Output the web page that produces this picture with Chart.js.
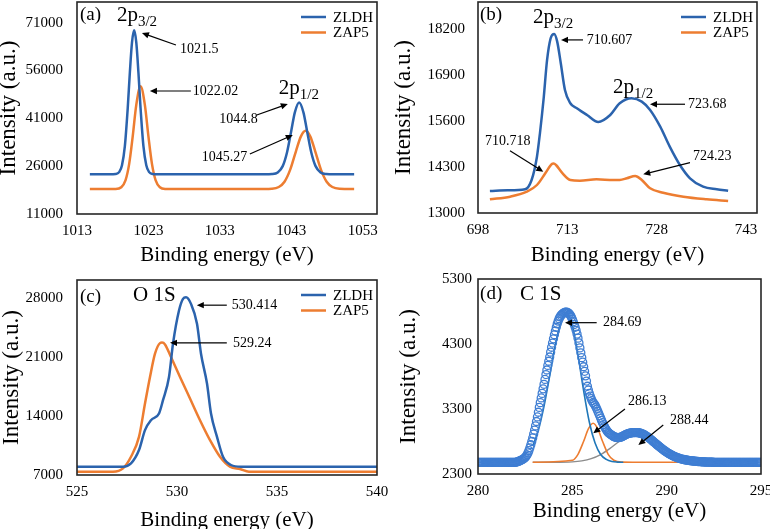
<!DOCTYPE html>
<html>
<head>
<meta charset="utf-8">
<script src="https://cdn.jsdelivr.net/npm/chart.js@4.4.1/dist/chart.umd.min.js"></script>
<style>
    html, body { margin: 0; padding: 0; background: #fff; overflow: hidden; }
    #wrap { position: relative; width: 770px; height: 529px; }
    #wrap canvas { position: absolute; left: 0; top: 0; }
</style>
</head>
<body>
<div id="wrap">
    <canvas id="chart-a" width="770" height="529"></canvas>
    <canvas id="chart-b" width="770" height="529"></canvas>
    <canvas id="chart-c" width="770" height="529"></canvas>
    <canvas id="chart-d" width="770" height="529"></canvas>
</div>
<script>
// (a) Zn 2p
var energyA_zldh = [1014.8, 1017.6, 1018.4, 1018.9, 1019.3, 1019.7, 1020.1, 1020.4, 1020.7, 1021.0, 1021.3, 1021.6, 1021.9, 1022.3, 1022.7, 1023.1, 1023.6, 1024.4,
                    1039.3, 1040.3, 1041.1, 1041.8, 1042.4, 1043.0, 1043.5, 1044.1, 1044.7, 1045.2, 1045.8, 1046.4, 1047.1, 1047.9, 1048.9, 1051.8];
var countsA_zldh = [23500, 23500, 23570, 24130, 26300, 32300, 44150, 55380, 64850, 68600, 64850, 55380, 44150, 32300, 26300, 24130, 23570, 23500,
                    23500, 23560, 24040, 26020, 30310, 37130, 42880, 45980, 42880, 37130, 30310, 26020, 24040, 23560, 23500, 23500];
var energyA_zap5 = [1014.8, 1018.4, 1019.2, 1019.8, 1020.3, 1020.8, 1021.3, 1021.9, 1022.5, 1023.0, 1023.5, 1024.0, 1024.6, 1025.4, 1026.4,
                    1039.25, 1040.25, 1041.25, 1042.05, 1042.85, 1043.65, 1044.35, 1045.0, 1045.65, 1046.35, 1047.15, 1047.95, 1048.75, 1049.75, 1051.8];
var countsA_zap5 = [18830, 18865, 19400, 21630, 26630, 35340, 45240, 51080, 45240, 35340, 26630, 21630, 19400, 18865, 18830,
                    18840, 18910, 19470, 21130, 24930, 30680, 35350, 37090, 35350, 30680, 24930, 21130, 19470, 18910, 18830];
var xTicksA = [1013, 1023, 1033, 1043, 1053];
var yTicksA = [11000, 26000, 41000, 56000, 71000];

// (b) Fe 2p
var energyB_zldh = [700.0, 703.0, 705.9, 707.0, 707.9, 708.4, 709.0, 709.6, 710.2, 710.8, 711.3, 711.9, 712.6, 713.5, 714.6, 716.3, 718.2,
                    720.2, 721.8, 723.8, 725.5, 726.9, 728.6, 730.2, 731.9, 733.6, 735.8, 738.1, 740.0];
var countsB_zldh = [13622, 13640, 13670, 13933, 14591, 15252, 16193, 17324, 17937, 18059, 17841, 17231, 16476, 16100, 15959, 15769, 15572,
                    15769, 16100, 16241, 16145, 15911, 15439, 14874, 14356, 13981, 13743, 13670, 13630];
var energyB_zap5 = [700.0, 703.4, 706.2, 707.9, 709.3, 710.4, 710.7, 711.1, 712.1, 713.5, 715.1, 717.9, 720.7, 721.8, 723.0, 724.4, 725.5,
                    726.9, 729.1, 732.5, 736.4, 740.0];
var countsB_zap5 = [13387, 13461, 13602, 13791, 14122, 14385, 14400, 14356, 14139, 13933, 13913, 13952, 13933, 13933, 13981, 14046, 13933,
                    13698, 13574, 13461, 13387, 13339];
var xTicksB = [698, 713, 728, 743];
var yTicksB = [13000, 14300, 15600, 16900, 18200];

// (c) O 1s
var energyC_zldh = [525.0, 527.3, 527.7, 528.1, 528.4, 528.7, 529.1, 529.3, 529.6, 529.8, 530.1, 530.3, 530.45, 530.7, 531.0, 531.2, 531.5,
                    531.7, 532.0, 532.3, 532.7, 533.2, 540.0];
var countsC_zldh = [7990, 7990, 8380, 9970, 12340, 13520, 14320, 15900, 18660, 22620, 26570, 27960, 28150, 27360, 24990, 21430, 17880,
                    14320, 11540, 9170, 8190, 7990, 7990];
var energyC_zap5 = [525.0, 526.8, 527.3, 527.7, 528.1, 528.4, 528.65, 528.9, 529.15, 529.25, 529.4, 529.7, 530.15, 530.65, 531.15, 531.65,
                    532.15, 532.65, 533.15, 533.6, 540.0];
var countsC_zap5 = [7390, 7390, 7790, 9170, 11540, 15500, 18660, 21430, 22690, 22750, 22540, 21030, 18660, 16100, 13520, 11150,
                    9170, 7990, 7710, 7400, 7390];
var xTicksC = [525, 530, 535, 540];
var yTicksC = [7000, 14000, 21000, 28000];

// (d) C 1s, measured points (every 0.05 eV) and fitted components
var energyD = [280.00, 280.05, 280.10, 280.15, 280.20, 280.25, 280.30, 280.35, 280.40, 280.45,
               280.50, 280.55, 280.60, 280.65, 280.70, 280.75, 280.80, 280.85, 280.90, 280.95,
               281.00, 281.05, 281.10, 281.15, 281.20, 281.25, 281.30, 281.35, 281.40, 281.45,
               281.50, 281.55, 281.60, 281.65, 281.70, 281.75, 281.80, 281.85, 281.90, 281.95,
               282.00, 282.05, 282.10, 282.15, 282.20, 282.25, 282.30, 282.35, 282.40, 282.45,
               282.50, 282.55, 282.60, 282.65, 282.70, 282.75, 282.80, 282.85, 282.90, 282.95,
               283.00, 283.05, 283.10, 283.15, 283.20, 283.25, 283.30, 283.35, 283.40, 283.45,
               283.50, 283.55, 283.60, 283.65, 283.70, 283.75, 283.80, 283.85, 283.90, 283.95,
               284.00, 284.05, 284.10, 284.15, 284.20, 284.25, 284.30, 284.35, 284.40, 284.45,
               284.50, 284.55, 284.60, 284.65, 284.70, 284.75, 284.80, 284.85, 284.90, 284.95,
               285.00, 285.05, 285.10, 285.15, 285.20, 285.25, 285.30, 285.35, 285.40, 285.45,
               285.50, 285.55, 285.60, 285.65, 285.70, 285.75, 285.80, 285.85, 285.90, 285.95,
               286.00, 286.05, 286.10, 286.15, 286.20, 286.25, 286.30, 286.35, 286.40, 286.45,
               286.50, 286.55, 286.60, 286.65, 286.70, 286.75, 286.80, 286.85, 286.90, 286.95,
               287.00, 287.05, 287.10, 287.15, 287.20, 287.25, 287.30, 287.35, 287.40, 287.45,
               287.50, 287.55, 287.60, 287.65, 287.70, 287.75, 287.80, 287.85, 287.90, 287.95,
               288.00, 288.05, 288.10, 288.15, 288.20, 288.25, 288.30, 288.35, 288.40, 288.45,
               288.50, 288.55, 288.60, 288.65, 288.70, 288.75, 288.80, 288.85, 288.90, 288.95,
               289.00, 289.05, 289.10, 289.15, 289.20, 289.25, 289.30, 289.35, 289.40, 289.45,
               289.50, 289.55, 289.60, 289.65, 289.70, 289.75, 289.80, 289.85, 289.90, 289.95,
               290.00, 290.05, 290.10, 290.15, 290.20, 290.25, 290.30, 290.35, 290.40, 290.45,
               290.50, 290.55, 290.60, 290.65, 290.70, 290.75, 290.80, 290.85, 290.90, 290.95,
               291.00, 291.05, 291.10, 291.15, 291.20, 291.25, 291.30, 291.35, 291.40, 291.45,
               291.50, 291.55, 291.60, 291.65, 291.70, 291.75, 291.80, 291.85, 291.90, 291.95,
               292.00, 292.05, 292.10, 292.15, 292.20, 292.25, 292.30, 292.35, 292.40, 292.45,
               292.50, 292.55, 292.60, 292.65, 292.70, 292.75, 292.80, 292.85, 292.90, 292.95,
               293.00, 293.05, 293.10, 293.15, 293.20, 293.25, 293.30, 293.35, 293.40, 293.45,
               293.50, 293.55, 293.60, 293.65, 293.70, 293.75, 293.80, 293.85, 293.90, 293.95,
               294.00, 294.05, 294.10, 294.15, 294.20, 294.25, 294.30, 294.35, 294.40, 294.45,
               294.50, 294.55, 294.60, 294.65, 294.70, 294.75, 294.80, 294.85, 294.90, 294.95,
               295.00];
var countsD = [2480, 2480, 2480, 2480, 2480, 2480, 2480, 2480, 2480, 2480,
               2480, 2480, 2480, 2480, 2480, 2480, 2480, 2480, 2480, 2480,
               2480, 2480, 2480, 2480, 2480, 2480, 2480, 2480, 2480, 2480,
               2480, 2480, 2480, 2480, 2480, 2480, 2480, 2480, 2480, 2480,
               2480, 2484, 2490, 2495, 2500, 2507, 2515, 2522, 2530, 2541,
               2555, 2573, 2595, 2625, 2660, 2703, 2750, 2800, 2855, 2913,
               2975, 3040, 3108, 3178, 3250, 3325, 3398, 3470, 3540, 3610,
               3680, 3755, 3830, 3900, 3970, 4035, 4100, 4175, 4250, 4315,
               4380, 4442, 4500, 4558, 4610, 4652, 4690, 4717, 4740, 4757,
               4770, 4779, 4785, 4789, 4790, 4784, 4775, 4760, 4740, 4713,
               4680, 4642, 4600, 4557, 4510, 4452, 4390, 4317, 4240, 4165,
               4090, 4020, 3950, 3880, 3810, 3730, 3650, 3592, 3540, 3498,
               3460, 3428, 3400, 3380, 3360, 3331, 3300, 3265, 3230, 3195,
               3160, 3125, 3090, 3060, 3030, 3004, 2980, 2959, 2940, 2927,
               2915, 2905, 2895, 2885, 2875, 2869, 2865, 2862, 2860, 2860,
               2862, 2865, 2870, 2877, 2885, 2892, 2900, 2908, 2915, 2920,
               2925, 2929, 2932, 2934, 2936, 2937, 2938, 2938, 2938, 2937,
               2935, 2932, 2928, 2923, 2918, 2912, 2905, 2897, 2888, 2878,
               2868, 2857, 2846, 2834, 2822, 2810, 2797, 2785, 2772, 2760,
               2748, 2736, 2724, 2712, 2700, 2689, 2678, 2667, 2656, 2646,
               2636, 2626, 2617, 2608, 2600, 2592, 2585, 2578, 2571, 2565,
               2559, 2553, 2548, 2543, 2538, 2534, 2530, 2526, 2523, 2520,
               2517, 2514, 2512, 2509, 2507, 2505, 2503, 2501, 2500, 2498,
               2497, 2495, 2494, 2492, 2491, 2490, 2489, 2488, 2487, 2486,
               2485, 2485, 2484, 2484, 2483, 2483, 2482, 2482, 2481, 2481,
               2480, 2480, 2480, 2480, 2480, 2480, 2480, 2480, 2480, 2480,
               2480, 2480, 2480, 2480, 2480, 2480, 2480, 2480, 2480, 2480,
               2480, 2480, 2480, 2480, 2480, 2480, 2480, 2480, 2480, 2480,
               2480, 2480, 2480, 2480, 2480, 2480, 2480, 2480, 2480, 2480,
               2480, 2480, 2480, 2480, 2480, 2480, 2480, 2480, 2480, 2480,
               2480];
var fitEnergyD_1 = [282.9, 283.2, 283.5, 283.8, 284.1, 284.4, 284.69, 285.0, 285.3, 285.6, 285.9, 286.2, 286.5, 286.8, 287.1, 287.4, 287.7];
var fitCountsD_1 = [2730, 2975, 3343, 3809, 4288, 4649, 4780, 4590, 4130, 3580, 3100, 2780, 2600, 2525, 2493, 2483, 2480];
var fitEnergyD_2 = [282.9, 285.0, 285.3, 285.6, 285.85, 286.1, 286.35, 286.6, 286.9, 287.2, 287.6, 288.2, 290.9];
var fitCountsD_2 = [2480, 2511, 2603, 2804, 2994, 3080, 2994, 2804, 2603, 2511, 2482, 2480, 2480];
var fitEnergyD_3 = [282.9, 284.0, 285.0, 285.5, 286.0, 286.5, 287.0, 287.5, 288.0, 288.44, 289.0, 289.5, 290.0, 290.5, 290.9];
var fitCountsD_3 = [2480, 2480, 2487, 2502, 2536, 2599, 2694, 2804, 2891, 2920, 2875, 2778, 2669, 2581, 2534];
var xTicksD = [280, 285, 290, 295];
var yTicksD = [2300, 3300, 4300, 5300];

var SERIF = '"Liberation Serif", "Times New Roman", serif';
var BLUE = '#2b63ad';
var ORANGE = '#ed7d31';

function toPoints(xs, ys) {
    var pts = [];
    for (var i = 0; i < xs.length; i++)
        pts.push({x: xs[i], y: ys[i]});
    return pts;
}

function curve(label, xs, ys, color, width) {
    return {
        label: label,
        data: toPoints(xs, ys),
        showLine: true,
        borderColor: color,
        borderWidth: width,
        pointRadius: 0,
        fill: false,
        cubicInterpolationMode: 'monotone'
    };
}

// annotations: texts, arrows [x1, y1, x2, y2] in data units
var decorById = {
    'chart-a': {
        legend: true,
        notes: [
            {text: '(a)', x: 1013.42, y: 73420, size: 19},
            {text: '2p', sub: '3/2', x: 1018.59, y: 71640, size: 21},
            {text: '1021.5', x: 1027.41, y: 62760, size: 14},
            {text: '1022.02', x: 1029.22, y: 49590, size: 14},
            {text: '2p', sub: '1/2', x: 1041.25, y: 48640, size: 21},
            {text: '1044.8', x: 1032.9, y: 40800, size: 14},
            {text: '1045.27', x: 1030.48, y: 28720, size: 14}
        ],
        arrows: [
            [1026.85, 64020, 1022.09, 67780],
            [1028.94, 49590, 1023.21, 49590],
            [1038.17, 42060, 1042.51, 45510],
            [1037.2, 29820, 1043.21, 35780]
        ]
    },
    'chart-b': {
        legend: true,
        notes: [
            {text: '(b)', x: 698.34, y: 18595, size: 19},
            {text: '2p', sub: '3/2', x: 707.23, y: 18361, size: 21},
            {text: '710.607', x: 716.25, y: 17889, size: 14},
            {text: '2p', sub: '1/2', x: 720.67, y: 16383, size: 21},
            {text: '723.68', x: 733.26, y: 16072, size: 14},
            {text: '710.718', x: 699.18, y: 15015, size: 14},
            {text: '724.23', x: 734.1, y: 14591, size: 14}
        ],
        arrows: [
            [715.63, 17889, 711.94, 17889],
            [732.76, 16072, 726.88, 16072],
            [703.37, 14761, 708.96, 14167],
            [733.6, 14421, 725.75, 14094]
        ]
    },
    'chart-c': {
        legend: true,
        notes: [
            {text: '(c)', x: 525.15, y: 28215, size: 19},
            {text: 'O 1S', x: 527.8, y: 27680, size: 21, base: 'alphabetic'},
            {text: '530.414', x: 532.74, y: 27205, size: 14},
            {text: '529.24', x: 532.8, y: 22724, size: 14}
        ],
        arrows: [
            [532.49, 27205, 530.99, 27205],
            [532.49, 22724, 529.65, 22724]
        ]
    },
    'chart-d': {
        legend: false,
        notes: [
            {text: '(d)', x: 280.11, y: 5069, size: 19},
            {text: 'C 1S', x: 282.23, y: 4977, size: 21, base: 'alphabetic'},
            {text: '284.69', x: 286.63, y: 4628, size: 14},
            {text: '286.13', x: 287.95, y: 3412, size: 14},
            {text: '288.44', x: 290.18, y: 3131, size: 14}
        ],
        arrows: [
            [286.29, 4628, 284.61, 4628],
            [287.79, 3300, 286.11, 2926],
            [289.82, 3054, 288.5, 2746]
        ]
    }
};

var decorPlugin = {
    id: 'decor',
    afterDraw: function(chart) {
        var d = decorById[chart.canvas.id];
        var ctx = chart.ctx;
        var area = chart.chartArea;
        var sx = chart.scales.x, sy = chart.scales.y;

        ctx.save();
        ctx.strokeStyle = '#262626';
        ctx.lineWidth = 1.6;
        ctx.strokeRect(area.left, area.top, area.right - area.left, area.bottom - area.top);

        ctx.fillStyle = '#000';
        ctx.strokeStyle = '#000';
        ctx.textAlign = 'left';
        d.notes.forEach(function(n) {
            var px = sx.getPixelForValue(n.x);
            var py = sy.getPixelForValue(n.y);
            ctx.font = n.size + 'px ' + SERIF;
            if (n.sub) {
                ctx.textBaseline = 'alphabetic';
                ctx.fillText(n.text, px, py);
                var w = ctx.measureText(n.text).width;
                ctx.font = '15px ' + SERIF;
                ctx.fillText(n.sub, px + w, py + 5);
            } else {
                ctx.textBaseline = n.base || 'middle';
                ctx.fillText(n.text, px, py);
            }
        });

        d.arrows.forEach(function(a) {
            var x1 = sx.getPixelForValue(a[0]), y1 = sy.getPixelForValue(a[1]);
            var x2 = sx.getPixelForValue(a[2]), y2 = sy.getPixelForValue(a[3]);
            var ang = Math.atan2(y2 - y1, x2 - x1);
            var len = 7, half = 3.2;
            var c = Math.cos(ang), s = Math.sin(ang);
            ctx.lineWidth = 1.2;
            ctx.beginPath();
            ctx.moveTo(x1, y1);
            ctx.lineTo(x2 - len * 0.7 * c, y2 - len * 0.7 * s);
            ctx.stroke();
            ctx.beginPath();
            ctx.moveTo(x2, y2);
            ctx.lineTo(x2 - len * c + half * s, y2 - len * s - half * c);
            ctx.lineTo(x2 - len * c - half * s, y2 - len * s + half * c);
            ctx.closePath();
            ctx.fill();
        });

        if (d.legend) {
            var sets = chart.data.datasets;
            for (var i = 0; i < 2; i++) {
                var ly = area.top + 15 + i * 15.5;
                ctx.strokeStyle = sets[i].borderColor;
                ctx.lineWidth = 2.5;
                ctx.beginPath();
                ctx.moveTo(area.right - 76, ly);
                ctx.lineTo(area.right - 51, ly);
                ctx.stroke();
                ctx.fillStyle = '#000';
                ctx.font = '15px ' + SERIF;
                ctx.textBaseline = 'middle';
                ctx.fillText(sets[i].label, area.right - 44, ly + 1);
            }
        }
        ctx.restore();
    }
};

// keep the layout from reserving room for overhanging tick labels
function noOverhang(scale) {
    scale.paddingTop = 0;
    scale.paddingBottom = 0;
    scale.paddingLeft = 0;
    scale.paddingRight = 0;
}

function buildChart(id, cfg) {
    return new Chart(document.getElementById(id), {
        type: 'scatter',
        data: {datasets: cfg.datasets},
        options: {
            responsive: false,
            animation: false,
            devicePixelRatio: 1,
            layout: {padding: cfg.padding},
            plugins: {
                legend: {display: false},
                tooltip: {enabled: false}
            },
            scales: {
                x: {
                    type: 'linear',
                    min: cfg.xRange[0],
                    max: cfg.xRange[1],
                    grid: {display: false, drawTicks: false},
                    border: {display: false},
                    afterBuildTicks: function(scale) {
                        scale.ticks = cfg.xTicks.map(function(v) { return {value: v}; });
                    },
                    afterFit: function(scale) {
                        scale.height = cfg.xHeight;
                        noOverhang(scale);
                    },
                    ticks: {
                        padding: 8,
                        color: '#000',
                        autoSkip: false,
                        maxRotation: 0,
                        font: {family: SERIF, size: 15},
                        callback: function(v) { return String(v); }
                    },
                    title: {
                        display: true,
                        text: 'Binding energy (eV)',
                        color: '#000',
                        font: {family: SERIF, size: 21, lineHeight: 1},
                        padding: {top: 0, bottom: cfg.xTitlePad}
                    }
                },
                y: {
                    type: 'linear',
                    min: cfg.yRange[0],
                    max: cfg.yRange[1],
                    grid: {display: false, drawTicks: false},
                    border: {display: false},
                    afterBuildTicks: function(scale) {
                        scale.ticks = cfg.yTicks.map(function(v) { return {value: v}; });
                    },
                    afterFit: function(scale) {
                        scale.width = cfg.yWidth;
                        noOverhang(scale);
                    },
                    ticks: {
                        padding: cfg.yTickPad,
                        color: '#000',
                        font: {family: SERIF, size: 15},
                        callback: function(v) { return String(v); }
                    },
                    title: {
                        display: true,
                        text: 'Intensity (a.u.)',
                        color: '#000',
                        font: {family: SERIF, size: 23, lineHeight: 1},
                        padding: {top: cfg.yTitlePad, bottom: 0}
                    }
                }
            }
        },
        plugins: [decorPlugin]
    });
}

buildChart('chart-a', {
    datasets: [
        curve('ZLDH', energyA_zldh, countsA_zldh, BLUE, 2.5),
        curve('ZAP5', energyA_zap5, countsA_zap5, ORANGE, 2.5)
    ],
    padding: {left: 0, top: 2, right: 393, bottom: 264},
    xRange: [1013, 1055], yRange: [11000, 77500],
    xTicks: xTicksA, yTicks: yTicksA,
    xHeight: 51, yWidth: 77, yTickPad: 14,
    xTitlePad: -0.5, yTitlePad: -2.5
});

buildChart('chart-b', {
    datasets: [
        curve('ZLDH', energyB_zldh, countsB_zldh, BLUE, 2.5),
        curve('ZAP5', energyB_zap5, countsB_zap5, ORANGE, 2.5)
    ],
    padding: {left: 385, top: 2, right: 13, bottom: 264},
    xRange: [698, 744.85], yRange: [13000, 18960],
    xTicks: xTicksB, yTicks: yTicksB,
    xHeight: 52, yWidth: 93, yTickPad: 13,
    xTitlePad: -0.5, yTitlePad: 7
});

buildChart('chart-c', {
    datasets: [
        curve('ZLDH', energyC_zldh, countsC_zldh, BLUE, 2.5),
        curve('ZAP5', energyC_zap5, countsC_zap5, ORANGE, 2.5)
    ],
    padding: {left: 0, top: 280, right: 393, bottom: 0},
    xRange: [525, 540], yRange: [7000, 30200],
    xTicks: xTicksC, yTicks: yTicksC,
    xHeight: 54, yWidth: 77, yTickPad: 14,
    xTitlePad: -1.5, yTitlePad: 0
});

buildChart('chart-d', {
    datasets: [
        {
            label: 'C 1s',
            data: toPoints(energyD, countsD),
            showLine: false,
            pointStyle: 'circle',
            pointRadius: 4,
            pointBorderWidth: 1.3,
            pointBorderColor: '#3f7ed3',
            pointBackgroundColor: 'rgba(0,0,0,0)'
        },
        curve('fit 1', fitEnergyD_1, fitCountsD_1, '#1f77b8', 1.6),
        curve('fit 2', fitEnergyD_2, fitCountsD_2, ORANGE, 1.6),
        curve('fit 3', fitEnergyD_3, fitCountsD_3, '#8c8c8c', 1.4)
    ],
    padding: {left: 385, top: 279, right: 9, bottom: 0},
    xRange: [280, 295], yRange: [2300, 5300],
    xTicks: xTicksD, yTicks: yTicksD,
    xHeight: 55, yWidth: 93, yTickPad: 6,
    xTitlePad: 6.8, yTitlePad: 12.5
});
</script>
</body>
</html>
